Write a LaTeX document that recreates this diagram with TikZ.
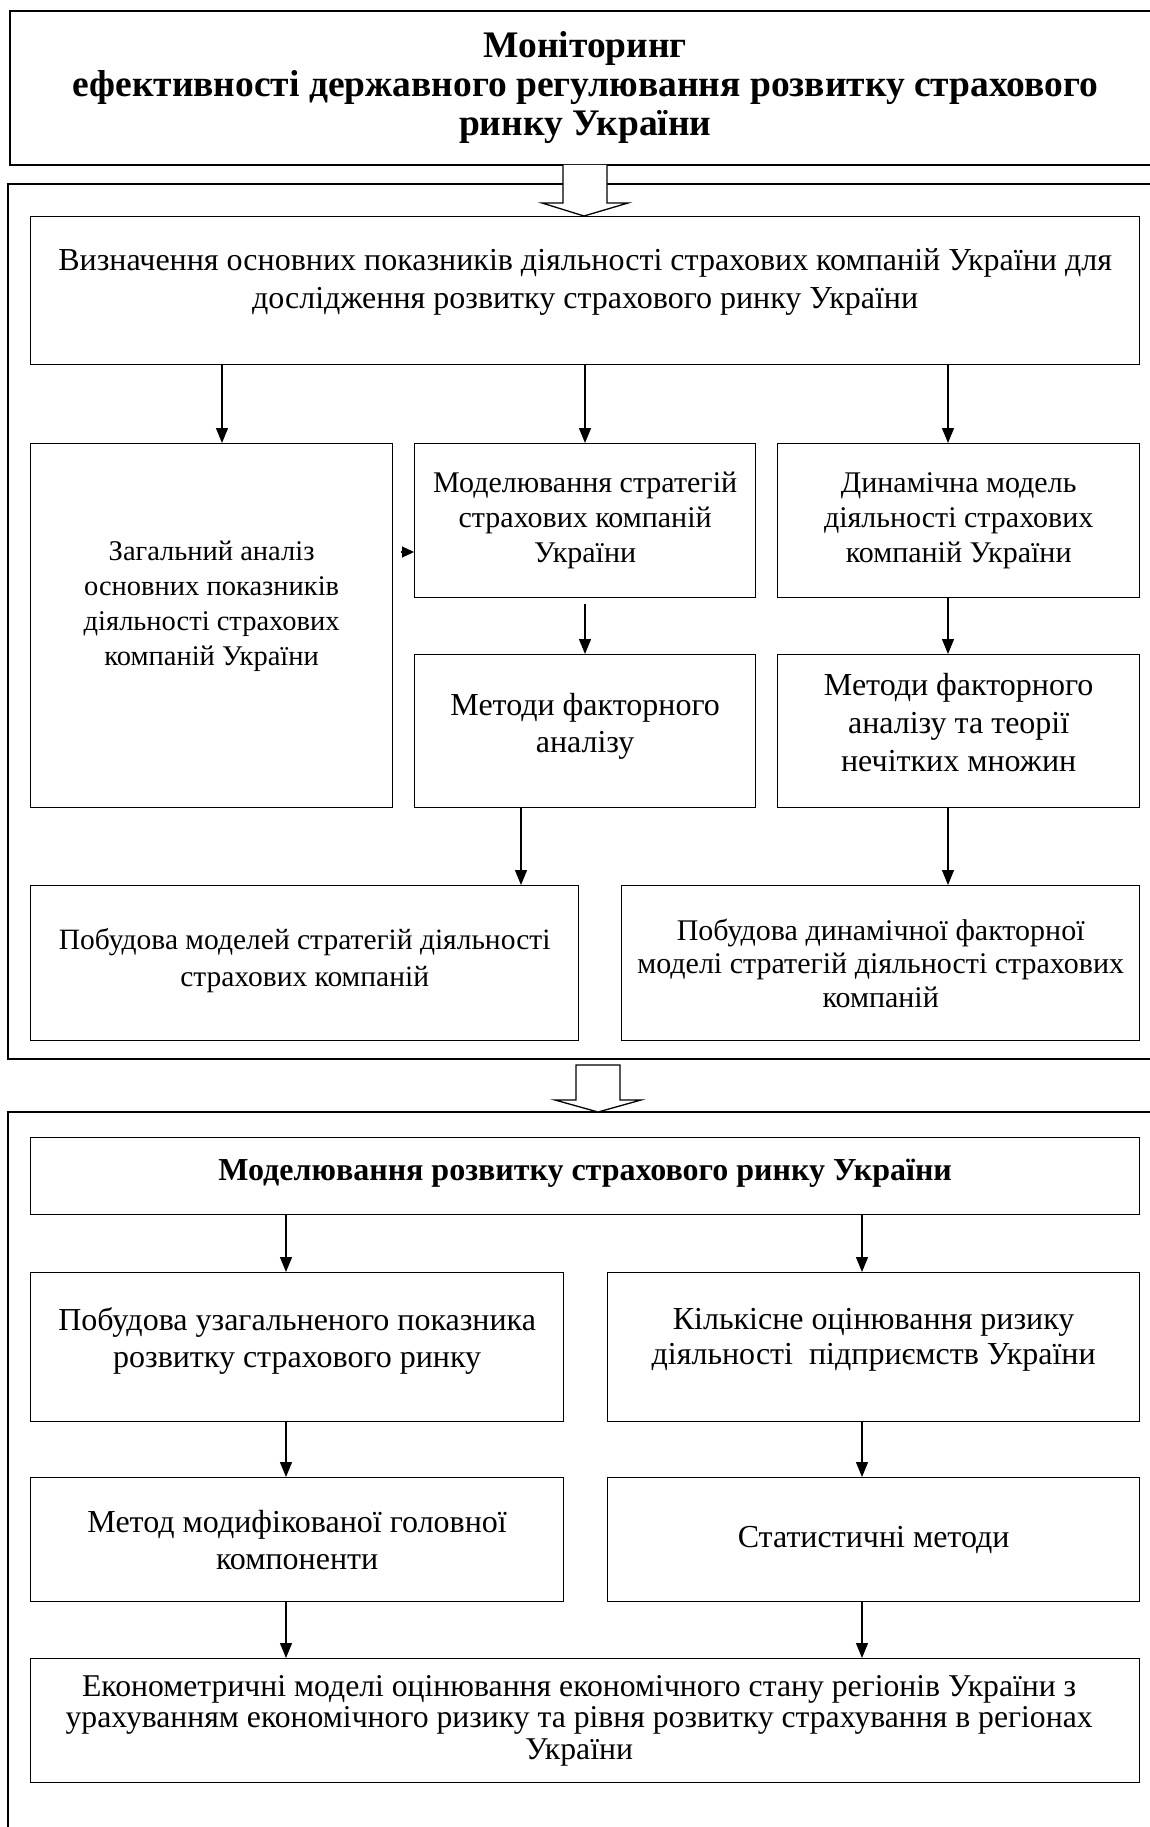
\documentclass[tikz,border=0pt]{standalone}
\usepackage{fontspec}
\setmainfont{Liberation Serif}
\usetikzlibrary{arrows.meta}
\newcommand{\fsz}[2]{\fontsize{#1}{#2}\selectfont}
\begin{document}
\begin{tikzpicture}[x=1pt,y=-1pt,
  frame/.style={draw,line width=1.6pt},
  box/.style={draw,line width=1.3pt,anchor=north west,inner sep=0pt,align=center,
    font=\fsz{32}{37}},
  boxtext/.style={align=center,inner sep=0pt},
  arr/.style={line width=1.3pt,-{Triangle[length=15pt,width=12pt]}},
  hollow/.style={draw,fill=white,line width=1.3pt,line join=miter}]
\useasboundingbox (0,0) rectangle (1150,1827);
\clip (0,0) rectangle (1150,1827);

% title
\node[box,line width=1.6pt,minimum width=1151pt,minimum height=154pt,
  font=\bfseries\fsz{37.5}{39}] (title) at (9,10)
  {Моніторинг\\ефективності державного регулювання розвитку страхового\\ринку України};

% frames
\draw[frame] (8,184) rectangle (1160,1059);
\draw[frame] (8,1112) rectangle (1160,1850);

% top section
\node[box,minimum width=1109pt,minimum height=148pt,
  label={[boxtext,font=\fsz{32}{38},yshift=9pt]center:{Визначення основних показників діяльності страхових компаній України для\\дослідження розвитку страхового ринку України}}]
  (vyzn) at (30,216) {};
\node[box,minimum width=362pt,minimum height=364pt,
  label={[boxtext,font=\fsz{28.5}{35},yshift=19pt]center:{Загальний аналіз\\основних показників\\діяльності страхових\\компаній України}}]
  (zag) at (30,443) {};
\node[box,minimum width=341pt,minimum height=154pt,font=\fsz{30}{35}] (model) at (414,443)
  {Моделювання стратегій\\страхових компаній\\України};
\node[box,minimum width=362pt,minimum height=154pt,font=\fsz{30}{35}] (dyn) at (777,443)
  {Динамічна модель\\діяльності страхових\\компаній України};
\node[box,minimum width=341pt,minimum height=153pt,
  label={[boxtext,font=\fsz{32}{37},yshift=5pt]center:{Методи факторного\\аналізу}}]
  (metf) at (414,654) {};
\node[box,minimum width=362pt,minimum height=153pt,
  label={[boxtext,font=\fsz{32}{38},yshift=9pt]center:{Методи факторного\\аналізу та теорії\\нечітких множин}}]
  (metn) at (777,654) {};
\node[box,minimum width=548pt,minimum height=155pt,
  label={[boxtext,font=\fsz{29.5}{37},yshift=3pt]center:{Побудова моделей стратегій діяльності\\страхових компаній}}]
  (pobm) at (30,885) {};
\node[box,minimum width=518pt,minimum height=155pt,font=\fsz{30}{33.5}] (pobd) at (621,885)
  {Побудова динамічної факторної\\моделі стратегій діяльності страхових\\компаній};

% bottom section
\node[box,minimum width=1109pt,minimum height=77pt,
  label={[boxtext,font=\bfseries\fsz{32}{37},yshift=3pt]center:{Моделювання розвитку страхового ринку України}}]
  (bold) at (30,1137) {};
\node[box,minimum width=533pt,minimum height=149pt,
  label={[boxtext,font=\fsz{32}{37},yshift=6pt]center:{Побудова узагальненого показника\\розвитку страхового ринку}}]
  (uzag) at (30,1272) {};
\node[box,minimum width=532pt,minimum height=149pt,
  label={[boxtext,font=\fsz{32}{35},yshift=7pt]center:{Кількісне оцінювання ризику\\діяльності\ \ підприємств України}}]
  (kilk) at (607,1272) {};
\node[box,minimum width=533pt,minimum height=124pt] (metmod) at (30,1477)
  {Метод модифікованої головної\\компоненти};
\node[box,minimum width=532pt,minimum height=124pt] (stat) at (607,1477)
  {Статистичні методи};
\node[box,minimum width=1109pt,minimum height=124pt,
  label={[boxtext,font=\fsz{31.7}{31.5},xshift=-6pt]center:{Економетричні моделі оцінювання економічного стану регіонів України з\\урахуванням економічного ризику та рівня розвитку страхування в регіонах\\України}}]
  (econ) at (30,1658) {};

% hollow arrows
\path[fill=white] (563,165) -- (563,203) -- (542,203) -- (584,216) -- (628,203) -- (607,203) -- (607,165) -- cycle;
\draw[line width=1.3pt,line join=miter] (563,165) -- (563,203) -- (542,203) -- (584,216) -- (628,203) -- (607,203) -- (607,165);
\draw[hollow] (576,1065) -- (576,1100) -- (555,1100) -- (598,1112) -- (641,1100) -- (620,1100) -- (620,1065) -- cycle;

% column coordinates
\coordinate (xa) at (222,0);
\coordinate (xb) at (585,0);
\coordinate (xc) at (948,0);
\coordinate (xd) at (521,0);
\coordinate (xe) at (286,0);
\coordinate (xf) at (862,0);
\coordinate (smt) at (401,552);

% connectors
\draw[arr] (vyzn.south -| xa) -- (zag.north -| xa);
\draw[arr] (vyzn.south -| xb) -- (model.north -| xb);
\draw[arr] (vyzn.south -| xc) -- (dyn.north -| xc);
\draw[line width=1.3pt,-{Triangle[length=12pt,width=11pt]}] (smt) -- (smt -| model.west);
\draw[arr,shorten <=6pt] (model.south -| xb) -- (metf.north -| xb);
\draw[arr] (dyn.south -| xc) -- (metn.north -| xc);
\draw[arr] (metf.south -| xd) -- (pobm.north -| xd);
\draw[arr] (metn.south -| xc) -- (pobd.north -| xc);
\draw[arr] (bold.south -| xe) -- (uzag.north -| xe);
\draw[arr] (bold.south -| xf) -- (kilk.north -| xf);
\draw[arr] (uzag.south -| xe) -- (metmod.north -| xe);
\draw[arr] (kilk.south -| xf) -- (stat.north -| xf);
\draw[arr] (metmod.south -| xe) -- (econ.north -| xe);
\draw[arr] (stat.south -| xf) -- (econ.north -| xf);
\end{tikzpicture}
\end{document}
